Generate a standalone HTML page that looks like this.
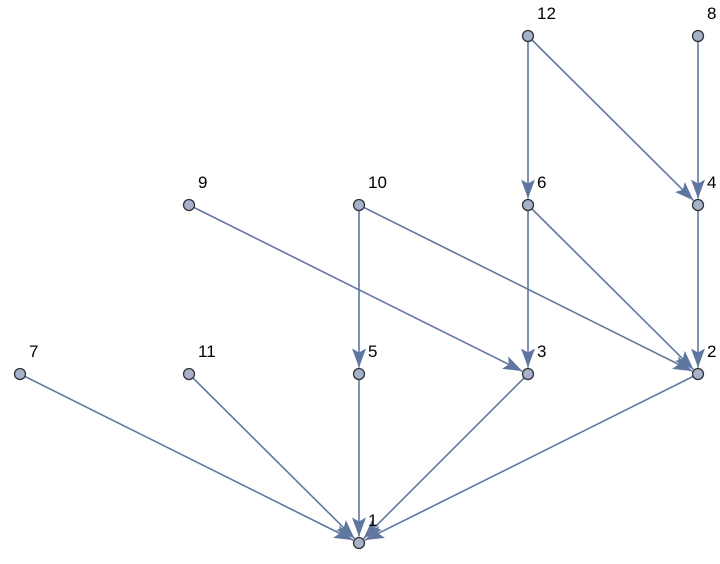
<!DOCTYPE html>
<html><head><meta charset="utf-8"><style>html,body{margin:0;padding:0;background:#fff}svg{display:block}</style></head>
<body>
<svg id="g" width="720" height="564" xmlns="http://www.w3.org/2000/svg">
<defs>
<marker id="a" markerUnits="userSpaceOnUse" markerWidth="26" markerHeight="18" viewBox="0 -9 20 18" refX="19" refY="0" orient="auto">
<path d="M0,-7 L19,0 L0,7 L4,0 Z" fill="#5f77a0"/>
</marker>
</defs>
<g id="e" stroke="#5f77a0" stroke-width="1.6" fill="none"></g>
<g id="n" fill="#a6b2cc" stroke="#333" stroke-width="1.3"></g>
<g id="t" font-family="Liberation Sans, Arial, sans-serif" font-size="17" fill="#000"></g>
</svg>
<script>
var P={12:[528,36],8:[698,36],9:[189,205],10:[359,205],6:[528,205],4:[698,205],7:[20,374],11:[189,374],5:[359,374],3:[528,374],2:[698,374],1:[359,543]};
var E=[[12,6],[12,4],[8,4],[9,3],[10,5],[10,2],[6,3],[6,2],[4,2],[7,1],[11,1],[5,1],[3,1],[2,1]];
var ns="http://www.w3.org/2000/svg";
var eg=document.getElementById('e'),ng=document.getElementById('n'),tg=document.getElementById('t');
E.forEach(function(p){var a=P[p[0]],b=P[p[1]];var dx=b[0]-a[0],dy=b[1]-a[1],L=Math.hypot(dx,dy);
var x2=b[0]-dx/L*6.5,y2=b[1]-dy/L*6.5;var l=document.createElementNS(ns,'line');
l.setAttribute('x1',a[0]);l.setAttribute('y1',a[1]);l.setAttribute('x2',x2);l.setAttribute('y2',y2);l.setAttribute('marker-end','url(#a)');eg.appendChild(l);});
for(var k in P){var c=document.createElementNS(ns,'circle');c.setAttribute('cx',P[k][0]);c.setAttribute('cy',P[k][1]);c.setAttribute('r',5.5);ng.appendChild(c);
var t=document.createElementNS(ns,'text');t.setAttribute('x',P[k][0]+9);t.setAttribute('y',P[k][1]-17);t.textContent=k;tg.appendChild(t);}
</script>
</body></html>
